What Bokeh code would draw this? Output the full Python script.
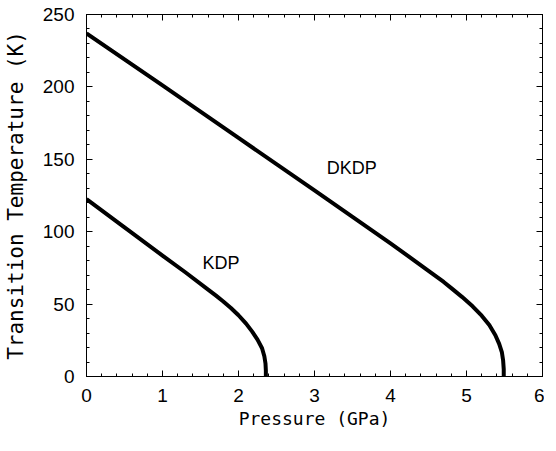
from bokeh.plotting import figure
from bokeh.models import LinearAxis, FixedTicker, Range1d, ColumnDataSource
from bokeh.core.properties import value
from bokeh.embed import file_html
from bokeh.resources import INLINE

# Data
kdp_pressure = [0.0, 0.5, 1.0, 1.3, 1.6, 1.7, 1.8, 1.9, 2.0, 2.1, 2.18, 2.25, 2.31, 2.34, 2.355, 2.36, 2.36]
kdp_temperature = [122.5, 103.0, 83.5, 72.0, 60.0, 56.0, 51.8, 47.3, 42.3, 36.5, 31.0, 25.5, 19.5, 14.0, 9.0, 4.0, 0.0]

dkdp_pressure = [0.0, 1.0, 2.0, 3.0, 3.5, 4.0, 4.5, 4.7, 4.8, 4.94, 5.08, 5.2, 5.3, 5.38, 5.43, 5.466, 5.482, 5.49, 5.49]
dkdp_temperature = [237.0, 201.0, 164.8, 128.5, 110.3, 92.0, 73.0, 65.3, 61.0, 55.0, 48.5, 42.0, 35.5, 28.5, 22.5, 16.6, 11.0, 5.0, 0.0]

label_names = ["KDP", "DKDP"]
label_pressure = [1.77, 3.49]
label_temperature = [78.5, 144.0]

x_ticks = [0, 1, 2, 3, 4, 5, 6]
y_ticks = [0, 50, 100, 150, 200, 250]

TICKFONT = "Liberation Sans"
LABELFONT = "Liberation Sans"
MONO = "DejaVu Sans Mono"

p = figure(
    frame_width=456, frame_height=362,
    x_range=Range1d(0, 6), y_range=Range1d(0, 250),
    output_backend="svg", toolbar_location=None,
    min_border_left=83, min_border_top=14, min_border_right=2, min_border_bottom=40,
    x_axis_label="Pressure (GPa)", y_axis_label="Transition Temperature (K)",
)
p.background_fill_color = "white"
p.border_fill_color = "white"
p.outline_line_color = "black"
p.outline_line_width = 1
p.xgrid.visible = False
p.ygrid.visible = False

x_minor = [i * 0.2 for i in range(31)]
y_minor = [i * 10 for i in range(26)]

def style_axis(ax, ticks, minor, labels=True):
    ax.ticker = FixedTicker(ticks=ticks, minor_ticks=minor)
    ax.axis_line_color = "black"
    ax.major_tick_line_color = "black"
    ax.minor_tick_line_color = "black"
    ax.major_tick_in = 6
    ax.major_tick_out = 0
    ax.minor_tick_in = 3
    ax.minor_tick_out = 0
    ax.major_label_text_font = TICKFONT
    ax.major_label_text_font_size = "19px"
    ax.major_label_text_color = "black"
    ax.axis_label_text_font = MONO
    ax.axis_label_text_font_size = "18px"
    ax.axis_label_text_font_style = "normal"
    ax.axis_label_text_color = "black"
    if not labels:
        ax.major_label_overrides = {t: "" for t in ticks}
        ax.major_label_standoff = 0

style_axis(p.xaxis[0], x_ticks, x_minor)
style_axis(p.yaxis[0], y_ticks, y_minor)
p.xaxis[0].major_label_standoff = 12
p.xaxis[0].axis_label_standoff = 3
p.yaxis[0].major_label_standoff = 12
p.yaxis[0].axis_label_standoff = 12
p.yaxis[0].axis_label_text_font_size = "21px"

top = LinearAxis()
style_axis(top, x_ticks, x_minor, labels=False)
p.add_layout(top, "above")
right = LinearAxis()
style_axis(right, y_ticks, y_minor, labels=False)
p.add_layout(right, "right")

p.line(kdp_pressure, kdp_temperature, line_color="black", line_width=4, line_join="round")
p.line(dkdp_pressure, dkdp_temperature, line_color="black", line_width=4, line_join="round")

src = ColumnDataSource(dict(x=label_pressure, y=label_temperature, t=label_names))
p.text(x="x", y="y", text="t", source=src, text_font=value(LABELFONT), text_font_size="18px",
       text_align="center", text_baseline="middle", text_color="black")

open("out.html", "w").write(file_html(p, INLINE))
